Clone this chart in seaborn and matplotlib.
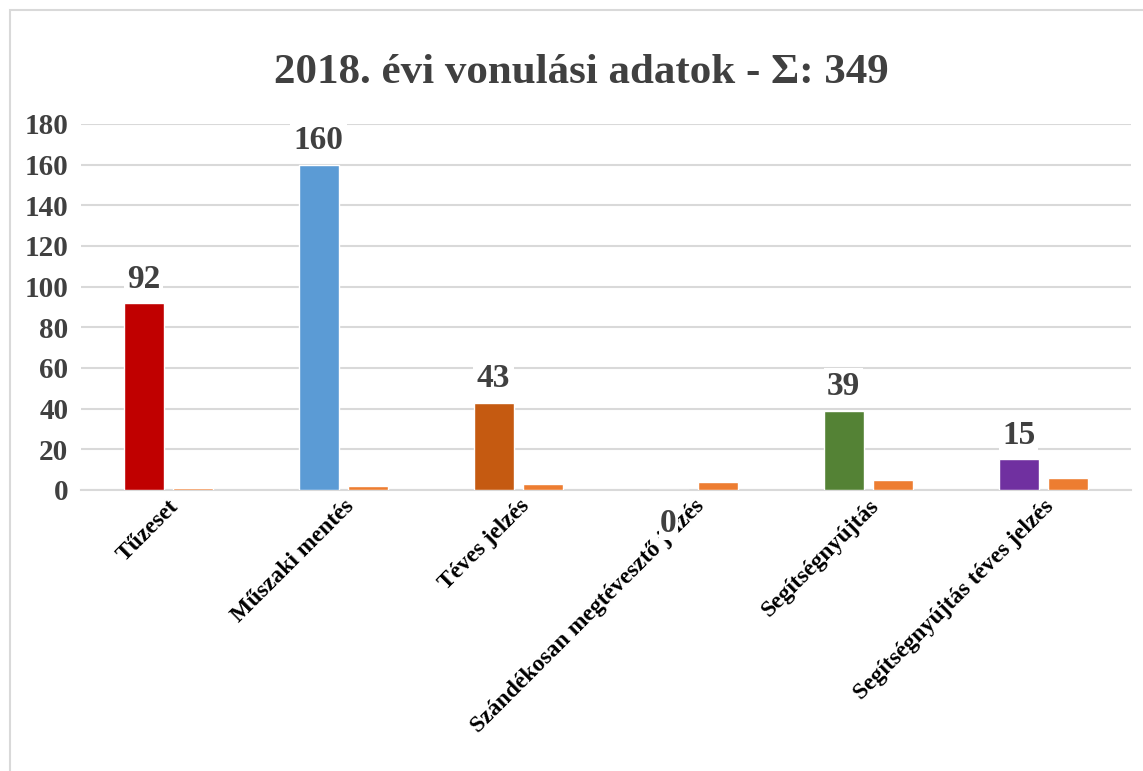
import numpy as np
import pandas as pd
import seaborn as sns
import matplotlib.pyplot as plt
from matplotlib.patches import Rectangle

# adatok
kategoriak = ['Tűzeset', 'Műszaki mentés', 'Téves jelzés',
              'Szándékosan megtévesztő jelzés', 'Segítségnyújtás',
              'Segítségnyújtás téves jelzés']
vonulasok = [92, 160, 43, 0, 39, 15]
masodik = [1, 2, 3, 4, 5, 6]
szinek = ['#C00000', '#5B9BD5', '#C55A11', '#A5A5A5', '#548235', '#7030A0']
narancs = '#ED7D31'

df = pd.DataFrame({
    'kat': kategoriak * 2,
    'ertek': vonulasok + masodik,
    'sor': ['vonulás'] * len(kategoriak) + ['sorszám'] * len(kategoriak),
})

sns.set_style('white')
plt.rcParams['font.family'] = ['Liberation Serif', 'DejaVu Serif']
plt.rcParams['font.weight'] = 'bold'

fig = plt.figure(figsize=(11.43, 7.71), dpi=100)
ax = fig.add_axes([81 / 1143, 1 - 490 / 771, 1050 / 1143, 366 / 771])

sns.barplot(data=df, x='kat', y='ertek', hue='sor', ax=ax,
            palette=[szinek[0], narancs], width=0.571, gap=0.2,
            dodge=True, legend=False, saturation=1, zorder=3)

# főbarok színezése
for bar, c in zip(ax.containers[0], szinek):
    bar.set_facecolor(c)
    bar.set_zorder(3)
for bar in ax.containers[1]:
    bar.set_facecolor(narancs)
    bar.set_zorder(3)

# adatfeliratok
for bar, v in zip(ax.containers[0], vonulasok):
    x = bar.get_x() + bar.get_width() / 2
    if v == 0:
        ax.annotate(str(v), (x, 0), xytext=(0, -24), textcoords='offset points',
                    ha='center', va='center', fontsize=24, color='#404040',
                    fontweight='bold', annotation_clip=False, zorder=5,
                    bbox=dict(boxstyle='square,pad=0.05', fc='white', ec='none'))
    else:
        ax.annotate(str(v), (x, v), xytext=(0, 6), textcoords='offset points',
                    ha='center', va='bottom', fontsize=24, color='#404040',
                    fontweight='bold', zorder=5,
                    bbox=dict(boxstyle='square,pad=0.1', fc='white', ec='none'))

ax.set_ylim(0, 180)
ax.set_yticks(np.arange(0, 181, 20))
ax.set_xlim(-0.5, len(kategoriak) - 0.5)
ax.yaxis.grid(True, color='#D9D9D9', linewidth=1.5)
ax.set_axisbelow(True)
for s in ['top', 'right', 'left']:
    ax.spines[s].set_visible(False)
ax.spines['bottom'].set_color('#D9D9D9')
ax.spines['bottom'].set_linewidth(1.5)
ax.spines['bottom'].set_zorder(1)

ax.set_xlabel('')
ax.set_ylabel('')
ax.tick_params(axis='y', length=0, pad=9, labelsize=21, labelcolor='#404040')
ax.tick_params(axis='x', length=0, pad=4)
ax.set_xticks(range(len(kategoriak)))
ax.set_xticklabels(kategoriak, rotation=45, ha='right', rotation_mode='anchor',
                   fontsize=17, fontweight='bold', color='black')
for t in ax.get_yticklabels():
    t.set_fontweight('bold')

fig.text(581 / 1143, 1 - 73 / 771, '2018. évi vonulási adatok - Σ: 349',
         ha='center', va='center', fontsize=31, fontweight='bold', color='#404040')

# keret
fig.patches.append(Rectangle((10 / 1143, -0.1), 1.2, 1 - 10 / 771 + 0.1,
                             transform=fig.transFigure, fill=False,
                             ec='#D9D9D9', lw=1.5, zorder=0))

fig.savefig('out.png', dpi=100)
